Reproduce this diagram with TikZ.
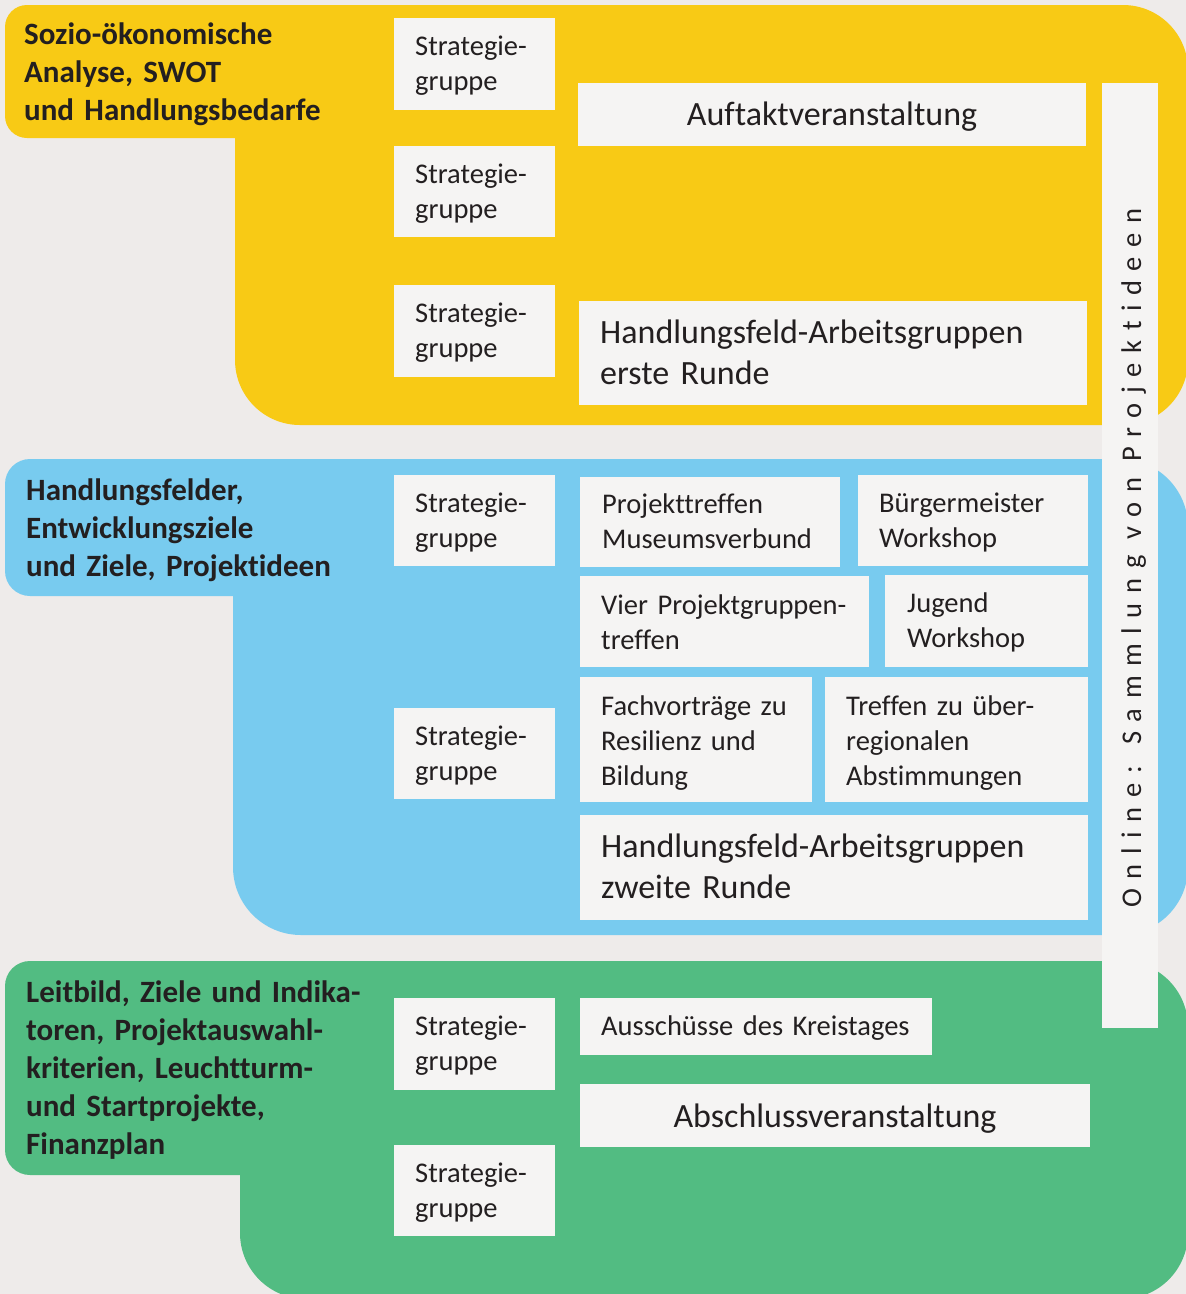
\documentclass[tikz,border=0pt]{standalone}
\usepackage{fontspec}
\setmainfont{Carlito}[Ligatures=NoCommon]
\newfontfamily\spacedfont[LetterSpace=33.7,Ligatures=NoCommon]{Carlito}
\usetikzlibrary{fit}
\definecolor{bgc}{HTML}{EEEBEA}
\definecolor{yel}{HTML}{F8CA15}
\definecolor{blu}{HTML}{78CBEF}
\definecolor{grn}{HTML}{52BC82}
\definecolor{boxc}{HTML}{F5F4F3}
\definecolor{txtc}{HTML}{231F20}
\begin{document}
\begin{tikzpicture}[x=1pt,y=-1pt,
  panel/.style={inner sep=0pt, outer sep=0pt, draw=none, fill=boxc},
  sm/.style={inner sep=0pt, anchor=base west, align=left, text width=420pt, text=txtc,
    font=\fontsize{28.5}{35}\selectfont},
  big/.style={inner sep=0pt, anchor=base west, align=left, text width=480pt, text=txtc,
    font=\fontsize{34}{41}\selectfont},
  bigc/.style={inner sep=0pt, anchor=base, text=txtc, font=\fontsize{34}{41}\selectfont},
  head/.style={inner sep=0pt, anchor=base west, align=left, text width=380pt, text=txtc,
    font=\bfseries\fontsize{31}{38}\selectfont}]
\useasboundingbox (0,0) rectangle (1186,1294);
\fill[bgc] (0,0) rectangle (1186,1294);
\clip (0,0) rectangle (1186,1294);

% yellow phase
\fill[yel, rounded corners=22pt] (5,5) rectangle (400,138);
\fill[yel, rounded corners=65pt] (235,5) rectangle (1188,425);
% blue phase
\fill[blu, rounded corners=25pt] (5,459) rectangle (400,596);
\fill[blu, rounded corners=68pt] (233,459) rectangle (1188,935);
% green phase
\fill[grn, rounded corners=25pt] (5,961) rectangle (400,1175);
\fill[grn, rounded corners=66pt] (240,961) rectangle (1188,1299);

% headings
\node[head] (h1) at (24,44) {Sozio-ökonomische\\Analyse, SWOT\\und Handlungsbedarfe};
\node[head] (h2) at (26,500) {Handlungsfelder,\\Entwicklungsziele\\und Ziele, Projektideen};
\node[head] (h3) at (26,1002) {Leitbild, Ziele und Indika-\\toren, Projektauswahl-\\kriterien, Leuchtturm-\\und Startprojekte,\\Finanzplan};

% Strategiegruppe boxes
\node[panel, fit={(394,18) (555,110)}] (sg1) {};
\node[panel, fit={(394,146) (555,237)}] (sg2) {};
\node[panel, fit={(394,285) (555,377)}] (sg3) {};
\node[panel, fit={(394,475) (555,566)}] (sg4) {};
\node[panel, fit={(394,708) (555,799)}] (sg5) {};
\node[panel, fit={(394,998) (555,1090)}] (sg6) {};
\node[panel, fit={(394,1145) (555,1236)}] (sg7) {};
\node[sm] (sg1t) at (415,55) {Strategie-\\gruppe};
\node[sm] (sg2t) at (415,183) {Strategie-\\gruppe};
\node[sm] (sg3t) at (415,322) {Strategie-\\gruppe};
\node[sm] (sg4t) at (415,512) {Strategie-\\gruppe};
\node[sm] (sg5t) at (415,745) {Strategie-\\gruppe};
\node[sm] (sg6t) at (415,1035) {Strategie-\\gruppe};
\node[sm] (sg7t) at (415,1182) {Strategie-\\gruppe};

% yellow events
\node[panel, fit={(578,83) (1086,146)}] (auf) {};
\node[bigc] (auft) at (832,125) {Auftaktveranstaltung};
\node[panel, fit={(579,301) (1087,405)}] (hf1) {};
\node[big] (hf1t) at (600,343) {Handlungsfeld-Arbeitsgruppen\\erste Runde};

% blue events
\node[panel, fit={(580,477) (840,567)}] (pt) {};
\node[sm] (ptt) at (602,513) {Projekttreffen\\Museumsverbund};
\node[panel, fit={(858,475) (1088,566)}] (bw) {};
\node[sm] (bwt) at (879,512) {Bürgermeister\\Workshop};
\node[panel, fit={(580,576) (869,667)}] (vp) {};
\node[sm] (vpt) at (601,614) {Vier Projektgruppen-\\treffen};
\node[panel, fit={(885,575) (1088,667)}] (jw) {};
\node[sm] (jwt) at (907,612) {Jugend\\Workshop};
\node[panel, fit={(580,677) (812,802)}] (fv) {};
\node[sm] (fvt) at (601,715) {Fachvorträge zu\\Resilienz und\\Bildung};
\node[panel, fit={(825,677) (1088,802)}] (tr) {};
\node[sm] (trt) at (846,715) {Treffen zu über-\\regionalen\\Abstimmungen};
\node[panel, fit={(580,815) (1088,920)}] (hf2) {};
\node[big] (hf2t) at (601,857) {Handlungsfeld-Arbeitsgruppen\\zweite Runde};

% green events
\node[panel, fit={(580,998) (932,1055)}] (aus) {};
\node[sm] (aust) at (601,1035) {Ausschüsse des Kreistages};
\node[panel, fit={(580,1084) (1090,1147)}] (abs) {};
\node[bigc] (abst) at (835,1127) {Abschlussveranstaltung};

% online bar
\node[panel, fit={(1102,83) (1158,1028)}] (onl) {};
\node[inner sep=0pt, anchor=base, rotate=90, text=txtc, font=\spacedfont\fontsize{28.5}{35}\selectfont] (onlt) at (1141,558) {Online: Sammlung von Projektideen};
\end{tikzpicture}
\end{document}
